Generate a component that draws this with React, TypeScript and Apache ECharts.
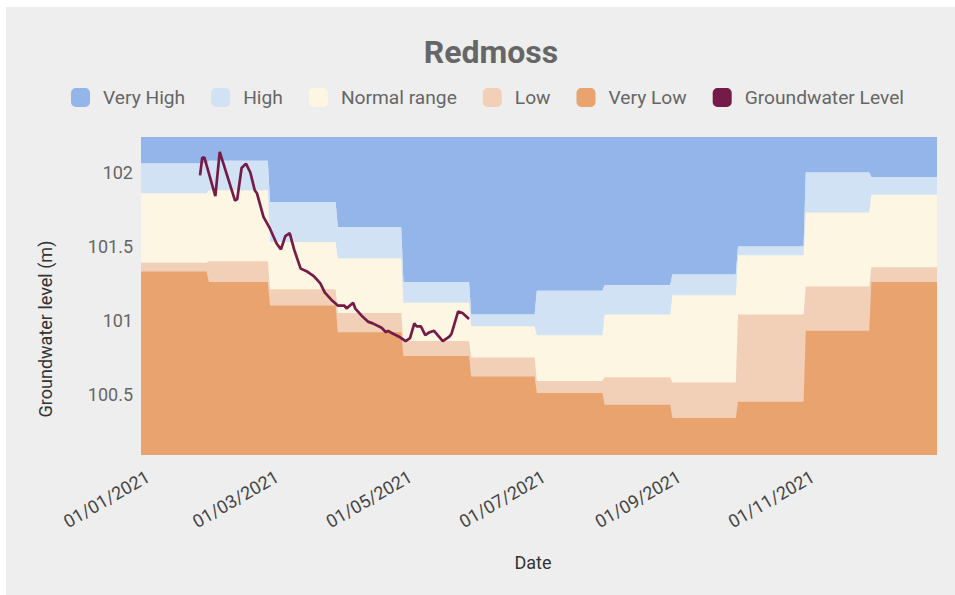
import React, { useEffect, useRef } from "react";
import * as echarts from "echarts";

// ---- data ----
const monthStarts = [
  "2021-01-01", "2021-02-01", "2021-03-01", "2021-04-01", "2021-05-01", "2021-06-01",
  "2021-07-01", "2021-08-01", "2021-09-01", "2021-10-01", "2021-11-01", "2021-12-01",
];
const monthEnds = [
  "2021-01-31", "2021-02-28", "2021-03-31", "2021-04-30", "2021-05-31", "2021-06-30",
  "2021-07-31", "2021-08-31", "2021-09-30", "2021-10-31", "2021-11-30", "2021-12-31",
];
// lower edge of each band (= upper edge of the band below), per month
const veryHighFloor = [102.06, 102.08, 101.8, 101.63, 101.26, 101.04, 101.2, 101.24, 101.31, 101.5, 102.0, 101.97];
const highFloor = [101.86, 101.88, 101.53, 101.42, 101.12, 100.96, 100.9, 101.04, 101.17, 101.44, 101.73, 101.85];
const normalFloor = [101.39, 101.4, 101.21, 101.05, 100.86, 100.75, 100.59, 100.615, 100.58, 101.04, 101.23, 101.36];
const lowFloor = [101.33, 101.26, 101.1, 100.92, 100.76, 100.62, 100.51, 100.43, 100.34, 100.45, 100.93, 101.26];

const levelDates = [
  "2021-01-28", "2021-01-29", "2021-01-30", "2021-02-04", "2021-02-06", "2021-02-13", "2021-02-14",
  "2021-02-16", "2021-02-18", "2021-02-20", "2021-02-22", "2021-02-23", "2021-02-26", "2021-03-01",
  "2021-03-04", "2021-03-06", "2021-03-08", "2021-03-10", "2021-03-12", "2021-03-15", "2021-03-18",
  "2021-03-21", "2021-03-24", "2021-03-26", "2021-03-29", "2021-04-01", "2021-04-04", "2021-04-05",
  "2021-04-08", "2021-04-09", "2021-04-12", "2021-04-15", "2021-04-17", "2021-04-21", "2021-04-23",
  "2021-04-24", "2021-04-25", "2021-04-29", "2021-05-02", "2021-05-04", "2021-05-06", "2021-05-07",
  "2021-05-09", "2021-05-11", "2021-05-13", "2021-05-15", "2021-05-19", "2021-05-22", "2021-05-23",
  "2021-05-26", "2021-05-28", "2021-05-31",
];
const levelValues = [
  101.98, 102.1, 102.1, 101.84, 102.14, 101.81, 101.82,
  102.03, 102.06, 102.0, 101.88, 101.86, 101.7, 101.62,
  101.52, 101.48, 101.57, 101.59, 101.48, 101.35, 101.33,
  101.3, 101.25, 101.19, 101.14, 101.1, 101.1, 101.08,
  101.12, 101.08, 101.03, 100.99, 100.98, 100.95, 100.92,
  100.93, 100.92, 100.89, 100.86, 100.88, 100.98, 100.96,
  100.96, 100.9, 100.92, 100.93, 100.86, 100.89, 100.91,
  101.06, 101.05, 101.01,
];

const xTickDates = ["2021-01-01", "2021-03-01", "2021-05-01", "2021-07-01", "2021-09-01", "2021-11-01"];
const yTickValues = [100.5, 101, 101.5, 102];

const COLORS = {
  veryHigh: "#94b5ea",
  high: "#d0e2f3",
  normal: "#fdf6e3",
  low: "#f1d0b7",
  veryLow: "#e9a36e",
  level: "#741b47",
};

const ts = (s: string) => {
  const [y, m, d] = s.split("-").map(Number);
  return new Date(y, m - 1, d).getTime();
};
const pad = (n: number) => (n < 10 ? "0" + n : "" + n);
const fmtDate = (v: number) => {
  const d = new Date(v);
  return pad(d.getDate()) + "/" + pad(d.getMonth() + 1) + "/" + d.getFullYear();
};
const stepData = (vals: number[]) =>
  vals.flatMap((v, i) => [
    [ts(monthStarts[i]), v],
    [ts(monthEnds[i]), v],
  ]);

const FONT = "Roboto";

function bandSeries(name: string, color: string, vals: number[], origin: "start" | "end") {
  return {
    name,
    type: "line",
    data: stepData(vals),
    symbol: "none",
    showSymbol: false,
    silent: true,
    lineStyle: { width: 0, color },
    itemStyle: { color },
    areaStyle: { color, opacity: 1, origin },
  };
}

export default function App() {
  const ref = useRef<HTMLDivElement>(null);

  useEffect(() => {
    if (!ref.current) return;
    const chart = echarts.init(ref.current, null, { renderer: "svg" });
    chart.setOption({
      animation: false,
      backgroundColor: "transparent",
      title: {
        text: "Redmoss",
        left: 486,
        top: 31,
        textAlign: "center",
        textStyle: { fontFamily: FONT, fontSize: 32, fontWeight: "bold", color: "#666666" },
      },
      legend: {
        left: 71,
        top: 88,
        padding: 0,
        icon: "roundRect",
        itemWidth: 19,
        itemHeight: 19,
        itemGap: 26,
        itemStyle: { borderWidth: 0 },
        textStyle: { fontFamily: FONT, fontSize: 19.2, color: "#666666", padding: [0, 0, 0, 8] },
      },
      grid: {
        left: 141,
        top: 137,
        width: 796,
        height: 318,
        outerBoundsMode: "none",
      },
      xAxis: {
        type: "value",
        min: ts("2021-01-01"),
        max: ts("2021-12-31"),
        axisLine: { show: false },
        axisTick: { show: false },
        splitLine: { show: false },
        axisLabel: {
          customValues: xTickDates.map(ts),
          formatter: (v: number) => fmtDate(v),
          rotate: 30,
          fontFamily: FONT,
          fontSize: 18,
          color: "#444444",
          margin: 24,
          padding: [0, -8, 0, 0],
          hideOverlap: false,
          showMinLabel: true,
          showMaxLabel: true,
        },
        name: "Date",
        nameLocation: "middle",
        nameGap: 98,
        nameTextStyle: { fontFamily: FONT, fontSize: 18, color: "#333333", padding: [0, 12, 0, 0] },
      },
      yAxis: {
        type: "value",
        min: 100.09,
        max: 102.24,
        axisLine: { show: false },
        axisTick: { show: false },
        splitLine: { show: false },
        axisLabel: {
          customValues: yTickValues,
          fontFamily: FONT,
          fontSize: 18,
          color: "#666666",
          margin: 8,
        },
        name: "Groundwater level (m)",
        nameLocation: "middle",
        nameGap: 87,
        nameTextStyle: { fontFamily: FONT, fontSize: 18, color: "#333333", padding: [0, 66, 0, 0] },
      },
      series: [
        bandSeries("Very High", COLORS.veryHigh, veryHighFloor, "end"),
        bandSeries("High", COLORS.high, veryHighFloor, "start"),
        bandSeries("Normal range", COLORS.normal, highFloor, "start"),
        bandSeries("Low", COLORS.low, normalFloor, "start"),
        bandSeries("Very Low", COLORS.veryLow, lowFloor, "start"),
        {
          name: "Groundwater Level",
          type: "line",
          data: levelDates.map((d, i) => [ts(d), levelValues[i]]),
          symbol: "none",
          showSymbol: false,
          z: 5,
          lineStyle: { width: 2.7, color: COLORS.level },
          itemStyle: { color: COLORS.level },
        },
      ],
    });
    return () => chart.dispose();
  }, []);

  return (
    <div style={{ position: "fixed", left: 0, top: 0, width: 955, height: 595, background: "#ffffff" }}>
      <div style={{ position: "absolute", left: 6, top: 7, width: 949, height: 588, background: "#eeeeee" }} />
      <div ref={ref} style={{ position: "absolute", left: 0, top: 0, width: 955, height: 595 }} />
    </div>
  );
}
